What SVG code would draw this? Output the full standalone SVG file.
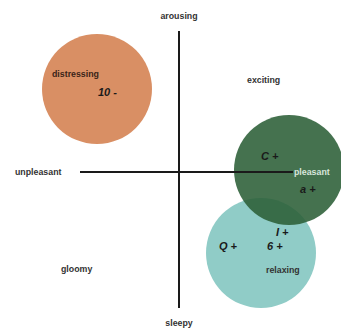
<svg xmlns="http://www.w3.org/2000/svg" width="341" height="331" viewBox="0 0 341 331">
  <style>
    .axis { stroke: #1a1a1a; stroke-width: 2; fill: none; }
    .lbl { font-family: "Liberation Sans", Arial, sans-serif; font-size: 8.8px; font-weight: bold; fill: #333333; }
    .pt { font-family: "Liberation Sans", Arial, sans-serif; font-size: 11px; font-weight: bold; font-style: italic; fill: #1a1a1a; }
  </style>
  <rect width="341" height="331" fill="#ffffff"/>

  <g id="distressing">
    <circle cx="97" cy="89" r="55" fill="#d98f64"/>
    <text class="lbl" x="52" y="77" style="fill:#3a2418">distressing</text>
    <text class="pt" x="98" y="96">10 -</text>
  </g>

  <g id="relaxing">
    <circle cx="261" cy="253" r="55" fill="#90ccc7"/>
    <text class="pt" x="219" y="250">Q +</text>
    <text class="pt" x="267" y="250">6 +</text>
    <text class="pt" x="276" y="236">I +</text>
    <text class="lbl" x="266" y="273">relaxing</text>
  </g>

  <g id="pleasant">
    <circle cx="289" cy="170" r="55" fill="#2b5e37" fill-opacity="0.88"/>
    <text class="pt" x="261" y="160">C +</text>
    <text class="pt" x="300" y="193">a +</text>
  </g>

  <g id="connectors">
    <line class="axis" x1="179" y1="31" x2="179" y2="308"/>
    <line class="axis" x1="80" y1="172" x2="293" y2="172"/>
  </g>

  <g id="labels">
    <text class="lbl" x="179" y="19" text-anchor="middle">arousing</text>
    <text class="lbl" x="179" y="326" text-anchor="middle">sleepy</text>
    <text class="lbl" x="15" y="175">unpleasant</text>
    <text class="lbl" x="294" y="175" style="fill:#d8e6dc">pleasant</text>
    <text class="lbl" x="247" y="83">exciting</text>
    <text class="lbl" x="61" y="272">gloomy</text>
  </g>
</svg>
